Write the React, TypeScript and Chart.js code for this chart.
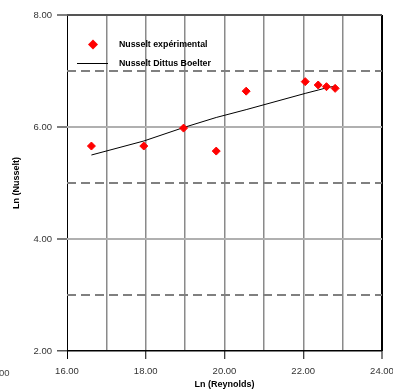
import { useEffect, useRef } from "react";
import { Chart, registerables } from "chart.js";

Chart.register(...registerables);

const lnReynolds = [16.62, 17.95, 18.96, 19.79, 20.55, 22.05, 22.38, 22.59, 22.81];
const lnNuExp = [5.66, 5.66, 5.98, 5.57, 6.64, 6.81, 6.75, 6.72, 6.69];
const lnNuDittus = [5.5, 5.75, 5.99, 6.17, 6.31, 6.6, 6.66, 6.7, 6.73];
const seriesLabels = ["Nusselt expérimental", "Nusselt Dittus Boelter"];
const xTitle = "Ln (Reynolds)";
const yTitle = "Ln (Nusselt)";
const xRange = [16, 24];
const yRange = [2, 8];

const FONT = "Arial, 'Liberation Sans', sans-serif";

const legendPlugin = {
  id: "innerLegend",
  afterDraw(chart: any) {
    const { ctx } = chart;
    ctx.save();
    // stray clipped label at bottom-left
    ctx.font = `9.5px ${FONT}`;
    ctx.fillStyle = "#444";
    ctx.textAlign = "left";
    ctx.textBaseline = "middle";
    ctx.fillText("00", -1, 373);

    // entry 1: diamond
    const cx = 93, cy = 44.5, r = 5;
    ctx.fillStyle = "#ff0000";
    ctx.beginPath();
    ctx.moveTo(cx, cy - r);
    ctx.lineTo(cx + r, cy);
    ctx.lineTo(cx, cy + r);
    ctx.lineTo(cx - r, cy);
    ctx.closePath();
    ctx.fill();
    // entry 2: line
    ctx.strokeStyle = "#000";
    ctx.lineWidth = 1;
    ctx.beginPath();
    ctx.moveTo(77, 63.5);
    ctx.lineTo(108, 63.5);
    ctx.stroke();

    ctx.font = `bold 8.8px ${FONT}`;
    ctx.fillStyle = "#000";
    ctx.textBaseline = "middle";
    ctx.fillText(seriesLabels[0], 119, 44.5);
    ctx.fillText(seriesLabels[1], 119, 63.5);
    ctx.restore();
  },
};

export default function App() {
  const ref = useRef<HTMLCanvasElement>(null);
  useEffect(() => {
    document.body.style.overflow = "hidden";
    const expPts = lnReynolds.map((x, i) => ({ x, y: lnNuExp[i] }));
    const dbPts = lnReynolds.map((x, i) => ({ x, y: lnNuDittus[i] }));
    const chart = new Chart(ref.current!, {
      type: "scatter",
      data: {
        datasets: [
          {
            label: seriesLabels[1],
            data: dbPts,
            showLine: true,
            borderColor: "#000",
            borderWidth: 1,
            pointRadius: 0,
            pointHoverRadius: 0,
            tension: 0,
            order: 2,
          } as any,
          {
            label: seriesLabels[0],
            data: expPts,
            showLine: false,
            pointStyle: "rectRot",
            pointRadius: 4,
            backgroundColor: "#ff0000",
            borderColor: "#ff0000",
            borderWidth: 1,
            order: 1,
          } as any,
        ],
      },
      options: {
        animation: false,
        responsive: true,
        maintainAspectRatio: false,
        layout: { padding: { left: 0, right: 11, top: 15, bottom: 0 } },
        plugins: { legend: { display: false }, tooltip: { enabled: false } },
        scales: {
          x: {
            type: "linear",
            min: xRange[0],
            max: xRange[1],
            afterFit: (s: any) => {
              s.height = 39;
              s.paddingLeft = 0;
              s.paddingRight = 0;
            },
            border: { display: false },
            grid: {
              color: (c: any) => {
                const v = c.tick?.value;
                if (v === xRange[0] || v === xRange[1]) return "#000";
                return "#8a8a8a";
              },
              lineWidth: (c: any) => {
                const v = c.tick?.value;
                if (v === xRange[0]) return 1;
                if (v === xRange[1]) return 2;
                return 1.5;
              },
              drawTicks: true,
              tickLength: 8,
              tickWidth: 1,
              tickColor: (c: any) => (c.tick && c.tick.value % 2 === 0 ? "#000" : "rgba(0,0,0,0)"),
            },
            ticks: {
              stepSize: 1,
              autoSkip: false,
              maxRotation: 0,
              padding: 7,
              color: "#333",
              font: { family: FONT, size: 9.5 },
              callback: (v: any) => (Number(v) % 2 === 0 ? Number(v).toFixed(2) : ""),
            },
            title: {
              display: true,
              text: xTitle,
              color: "#000",
              font: { family: FONT, size: 9, weight: "bold" },
              padding: { top: 0, bottom: 0 },
            },
          },
          y: {
            type: "linear",
            min: yRange[0],
            max: yRange[1],
            afterFit: (s: any) => {
              s.width = 67;
              s.paddingTop = 0;
              s.paddingBottom = 0;
            },
            border: {
              display: false,
              dash: (c: any) => (c.tick && c.tick.value % 2 !== 0 ? [9, 5] : []),
            },
            grid: {
              color: (c: any) => {
                const v = c.tick?.value;
                if (v === yRange[0]) return "#000";
                if (v === yRange[1]) return "#555";
                if (v % 2 !== 0) return "#808080";
                return "#b0b0b0";
              },
              lineWidth: (c: any) => {
                const v = c.tick?.value;
                if (v === yRange[0]) return 1.5;
                return 2;
              },
              drawTicks: true,
              tickLength: 10,
              tickWidth: 1.5,
              tickColor: (c: any) => (c.tick && c.tick.value % 2 === 0 ? "#555" : "rgba(0,0,0,0)"),
            },
            ticks: {
              stepSize: 1,
              autoSkip: false,
              padding: 5,
              color: "#333",
              font: { family: FONT, size: 9.5 },
              callback: (v: any) => (Number(v) % 2 === 0 ? Number(v).toFixed(2) : ""),
            },
            title: {
              display: true,
              text: yTitle,
              color: "#000",
              font: { family: FONT, size: 9, weight: "bold" },
              padding: { top: 11.5, bottom: 0 },
            },
          },
        },
      },
      plugins: [legendPlugin],
    });
    return () => chart.destroy();
  }, []);
  return (
    <div style={{ position: "absolute", left: 0, top: 0, width: 393, height: 390, background: "#fff" }}>
      <canvas ref={ref} />
    </div>
  );
}
